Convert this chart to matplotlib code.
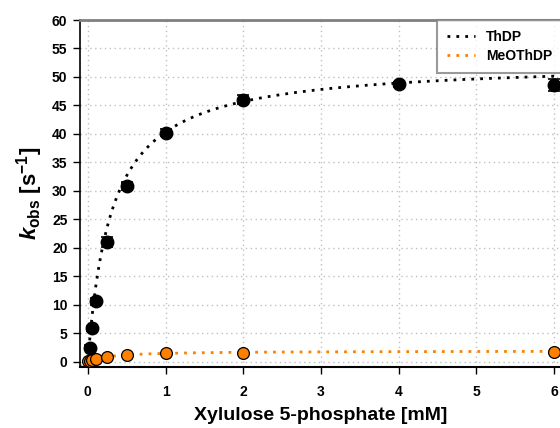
import numpy as np
import matplotlib
matplotlib.use("Agg")
import matplotlib.pyplot as plt

plt.rcParams['font.family'] = ['Liberation Sans', 'DejaVu Sans']
plt.rcParams['mathtext.fontset'] = 'custom'
plt.rcParams['mathtext.rm'] = 'Liberation Sans:bold'
plt.rcParams['mathtext.it'] = 'Liberation Sans:bold:italic'
plt.rcParams['mathtext.bf'] = 'Liberation Sans:bold'

# Data
x_thdp = [0.025, 0.05, 0.1, 0.25, 0.5, 1.0, 2.0, 4.0, 6.0]
y_thdp = [2.45, 5.85, 10.6, 21.0, 30.8, 40.2, 46.0, 48.7, 48.6]
err_thdp = [0.4, 0.5, 0.6, 0.85, 0.7, 0.6, 0.8, 0.5, 1.0]

x_meo = [0.0, 0.025, 0.05, 0.1, 0.25, 0.5, 1.0, 2.0, 6.0]
y_meo = [0.1, 0.2, 0.35, 0.5, 0.85, 1.1, 1.45, 1.6, 1.75]

# Hyperbolic fit parameters (kmax, K)
fit_thdp = (52.7, 0.307)
fit_meo = (1.9, 0.3)

xticks = [0, 1, 2, 3, 4, 5, 6]
yticks = list(range(0, 61, 5))

fig = plt.figure(figsize=(5.6, 4.28), dpi=100)
ax = fig.add_axes([80/560, 1-367/428, 482/560, 347/428])
xlim = (-0.1, 6.1)
ylim = (-0.93, 60)
ax.set_xlim(*xlim)
ax.set_ylim(*ylim)

xf = np.linspace(xlim[0], xlim[1], 400)
for (km, K), col, lab in [(fit_thdp, 'black', 'ThDP'), (fit_meo, '#ff8000', 'MeOThDP')]:
    with np.errstate(divide='ignore', invalid='ignore'):
        yf = km * xf / (K + xf)
    yf = np.where(xf > -K + 0.01, yf, np.nan)
    ax.plot(xf, yf, linestyle=(0, (1, 2.2)), color=col, lw=2.0, label=lab, zorder=2)

ax.errorbar(x_thdp, y_thdp, yerr=err_thdp, fmt='o', color='black', ms=9,
            mec='black', ecolor='black', elinewidth=1.2, capsize=4, capthick=1.2, zorder=4)
ax.plot(x_meo, y_meo, 'o', color='#ff8000', mec='black', mew=0.9, ms=8.5, zorder=4)

ax.set_xticks(xticks)
ax.set_yticks(yticks)
ax.grid(True, linestyle=(0, (1, 2.5)), color='#c0c0c0', lw=1.0)
ax.set_axisbelow(True)

for lbl in ax.get_xticklabels() + ax.get_yticklabels():
    lbl.set_fontweight('bold')
    lbl.set_fontsize(10)
ax.tick_params(axis='both', direction='out', length=5, width=1, pad=4)
ax.tick_params(axis='x', pad=8)

ax.spines['top'].set_color('#808080')
ax.spines['top'].set_linewidth(2)
ax.spines['left'].set_linewidth(1.2)
ax.spines['bottom'].set_linewidth(1.5)

ax.set_xlabel('Xylulose 5-phosphate [mM]', fontsize=14, fontweight='bold', labelpad=6)
ax.set_ylabel(r'$k_{\mathrm{obs}}$ [s$^{\mathrm{-1}}$]', fontsize=16, fontweight='bold', labelpad=5)

leg = ax.legend(loc='upper right', bbox_to_anchor=(1.0, 1.0), borderaxespad=0,
                fancybox=False, frameon=True, prop={'weight': 'bold', 'size': 10},
                handlelength=2.0, handletextpad=0.8, borderpad=0.7, labelspacing=0.4)
leg.get_frame().set_edgecolor('#808080')
leg.get_frame().set_linewidth(1.5)

fig.savefig('out.png', dpi=100)
